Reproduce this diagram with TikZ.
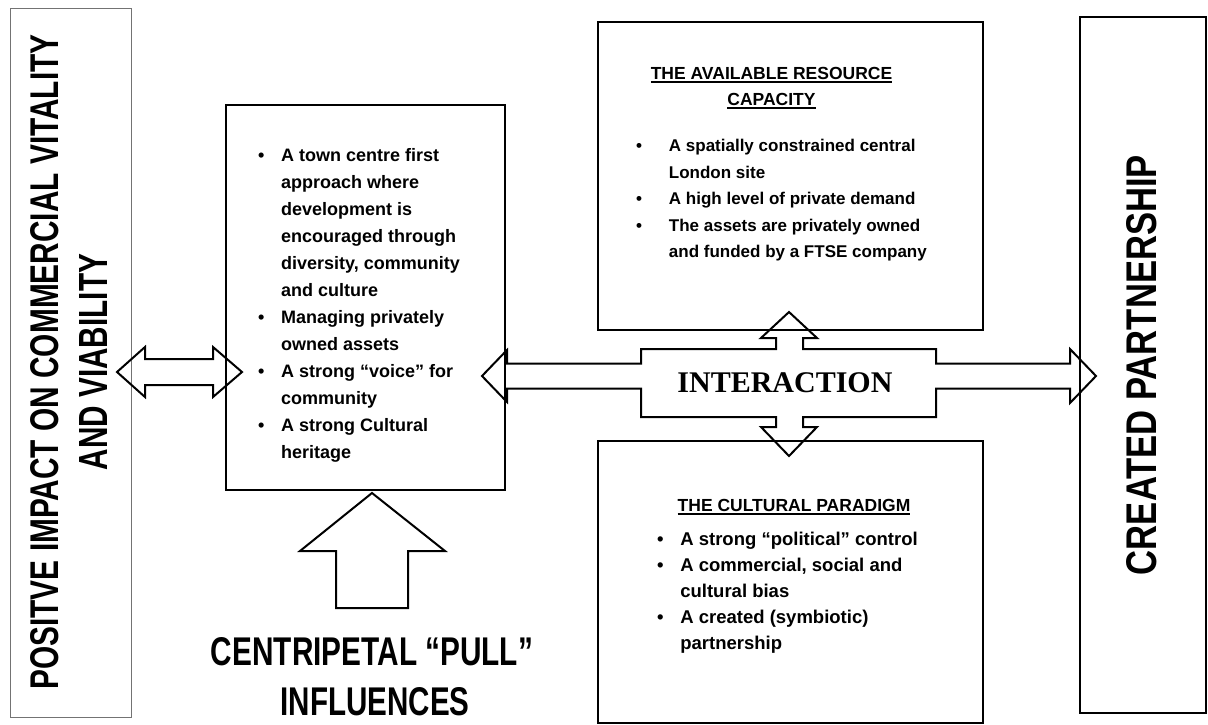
\documentclass[tikz,border=0pt]{standalone}
\usepackage{fontspec}
\setmainfont{Liberation Sans}
\newfontfamily\serifb{Liberation Serif}
\usepackage{graphicx}
\newcommand\myul[1]{\setbox0\hbox{#1}\rlap{\rule[-2.6pt]{\wd0}{1.4pt}}\box0}
\newcommand\bl[1][23pt]{\makebox[#1][l]{\textbullet}}
\newcommand\ind[1][23pt]{\hspace*{#1}}
\newcommand\bigtxt[3][28pt]{\resizebox{#2}{#1}{\bfseries #3}}
\begin{document}
\begin{tikzpicture}[x=1pt,y=-1pt,
  box/.style={draw, line width=2.2pt, inner sep=0pt, anchor=north west},
  thinbox/.style={draw=black!55, line width=1pt, inner sep=0pt, anchor=north west},
  blockarrow/.style={draw, line width=2pt, line join=miter},
  bul/.style={align=left, inner sep=0pt, anchor=north west, font=\bfseries\fontsize{18}{27}\selectfont},
  hdg/.style={align=center, inner sep=0pt, anchor=north, font=\bfseries\fontsize{17.5}{26}\selectfont},
  vtxt/.style={rotate=90, inner sep=0pt},
  btxt/.style={inner sep=0pt}]
\useasboundingbox (0,0) rectangle (1208,724);

% boxes
\node[thinbox, minimum width=121pt, minimum height=709pt] (leftbox) at (10,8) {};
\node[box, minimum width=279pt, minimum height=385pt] (midbox) at (225,104) {};
\node[box, minimum width=385pt, minimum height=308pt] (resbox) at (597,21) {};
\node[box, minimum width=385pt, minimum height=282pt] (culbox) at (597,440) {};
\node[box, minimum width=126pt, minimum height=696pt] (partbox) at (1079,16) {};

% left double arrow
\draw[blockarrow] (117,372) -- (145,347) -- (145,359) -- (213,359) -- (213,347) -- (242,372)
  -- (213,397) -- (213,385) -- (145,385) -- (145,397) -- cycle;

% centripetal up arrow
\draw[blockarrow] (372,493) -- (445,551) -- (408,551) -- (408,608) -- (336,608) -- (336,551) -- (300,551) -- cycle;

% interaction shape
\draw[blockarrow] (482,376) -- (507,350) -- (507,363.5) -- (641,363.5) -- (641,349) -- (776,349) -- (776,338)
  -- (761,338) -- (789,312) -- (817,338) -- (803,338) -- (803,349) -- (936,349) -- (936,363.5)
  -- (1070,363.5) -- (1070,349) -- (1096,376) -- (1070,403) -- (1070,388.5) -- (936,388.5)
  -- (936,417) -- (803,417) -- (803,427) -- (817,427) -- (789,456) -- (761,427) -- (776,427)
  -- (776,417) -- (641,417) -- (641,388.5) -- (507,388.5) -- (507,402) -- cycle;
\node[inner sep=0pt, font=\serifb\bfseries\fontsize{30}{30}\selectfont] (inter) at (785,383) {INTERACTION};

% texts
\node[vtxt] (lt1) at (45,362) {\bigtxt{655pt}{POSITVE IMPACT ON COMMERCIAL VITALITY}};
\node[vtxt] (lt2) at (93,362) {\bigtxt{216pt}{AND VIABILITY}};
\node[vtxt] (rt) at (1142,365) {\bigtxt[30pt]{420pt}{CREATED PARTNERSHIP}};
\node[btxt] (cp) at (372,652) {\bigtxt{322pt}{CENTRIPETAL “PULL”}};
\node[btxt] (inf) at (375,702) {\bigtxt{189pt}{INFLUENCES}};

\node[bul] (midtxt) at (258,148) {\bl A town centre first\\ \ind approach where\\ \ind development is\\
  \ind encouraged through\\ \ind diversity, community\\ \ind and culture\\ \bl Managing privately\\
  \ind owned assets\\ \bl A strong “voice” for\\ \ind community\\ \bl A strong Cultural\\ \ind heritage};

\node[hdg] (reshead) at (771.5,67.5) {\myul{THE AVAILABLE RESOURCE}\\ \myul{CAPACITY}};
\node[bul, font=\bfseries\fontsize{17}{26.5}\selectfont] (restxt) at (636,139) {\bl[28pt] A spatially constrained central\\
  \ind[28pt] London site\\ \bl[28pt] A high level of private demand\\ \bl[28pt] The assets are privately owned\\
  \ind[28pt] and funded by a FTSE company};

\node[hdg] (culhead) at (794,499.5) {\myul{THE CULTURAL PARADIGM}};
\node[bul, font=\bfseries\fontsize{18.5}{26}\selectfont] (cultxt) at (657,532) {\bl[18pt] A strong “political” control\\
  \bl[18pt] A commercial, social and\\ \ind[18pt] cultural bias\\ \bl[18pt] A created (symbiotic)\\ \ind[18pt] partnership};
\end{tikzpicture}
\end{document}
